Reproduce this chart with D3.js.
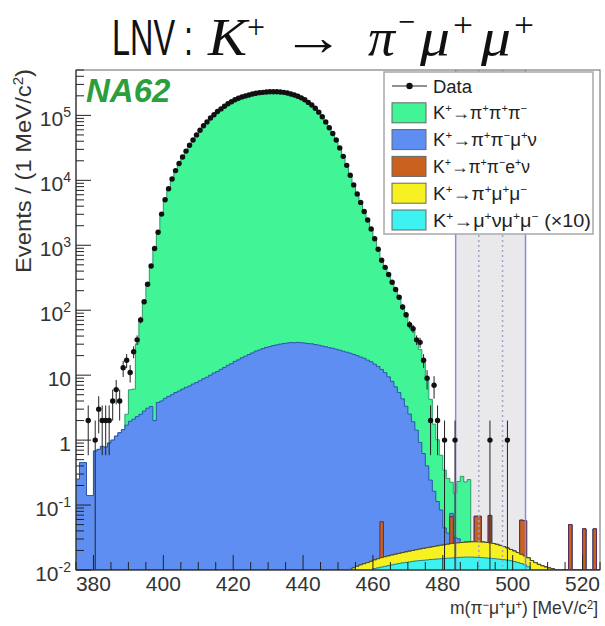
<!DOCTYPE html>
<html>
<head>
<meta charset="utf-8">
<script src="https://cdn.jsdelivr.net/npm/d3@7"></script>
<style>
  body { margin: 0; background: #fff; }
  svg { display: block; }
  text { font-family: "Liberation Sans", Arial, Helvetica, sans-serif; }
</style>
</head>
<body>
<svg id="chart" width="605" height="626"></svg>
<script>
// ---- binning and axis ranges (1 MeV/c^2 bins) ----
const massRange = [375, 525];
const yRange = [0.01, 5e5];
const xMajorTicks = [380, 400, 420, 440, 460, 480, 500, 520];
const yDecadeLabels = ["10^{-2}", "10^{-1}", "1", "10", "10^{2}", "10^{3}", "10^{4}", "10^{5}"];

// ---- data: event counts per bin, first bin starts at dataStart ----
const dataStart = 378;
const dataCounts = [
  2, 0, 1, 3, 2, 2, 2, 4, 6, 4,                                  // 378-387
  13, 17, 11, 23, 35, 71, 135, 251, 479, 891,                    // 388-397
  1585, 3020, 5012, 7413, 10470, 14130, 18200, 22900, 28200, 34700, // 398-407
  41700, 50100, 58900, 69200, 79400, 91200, 102300, 114800, 125900, 138000, // 408-417
  151400, 162200, 173800, 184100, 192800, 199500, 206500, 213800, 218800, 223900, // 418-427
  226500, 229100, 231700, 231700, 231700, 229100, 226500, 221300, 213800, 206500, // 428-437
  197200, 186200, 173800, 158500, 144500, 128800, 112200, 95500, 79400, 64600, // 438-447
  52500, 41700, 31600, 23400, 17000, 12000, 8510, 6170, 4570, 3310, // 448-457
  2450, 1780, 1260, 871, 589, 457, 355, 269, 209, 158,           // 458-467
  112, 85, 60, 52, 35, 32, 17, 9, 2, 7,                          // 468-477
  2, 0, 1, 0, 0, 1, 0, 0, 0, 0,                                  // 478-487
  0, 0, 0, 0, 0, 1, 0, 0, 0, 0,                                  // 488-497
  1                                                              // 498
];

// ---- simulated components ----
// K+ -> pi+ pi+ pi-
const k3piStart = 388;
const k3piValues = [
  0, 0.8, 4.0, 4.0, 28, 68, 130, 245, 470, 880,
  1580, 3000, 4990, 7400, 10460, 14120, 18190, 22890, 28190, 34690,
  41690, 50090, 58890, 69190, 79390, 91190, 102300, 114800, 125900, 138000,
  151400, 162200, 173800, 184100, 192800, 199500, 206500, 213800, 218800, 223900,
  226500, 229100, 231700, 231700, 231700, 229100, 226500, 221300, 213800, 206500,
  197200, 186200, 173800, 158500, 144500, 128800, 112200, 95500, 79400, 64600,
  52500, 41700, 31600, 23400, 17000, 12000, 8490, 6150, 4550, 3290,
  2430, 1760, 1245, 857, 577, 446, 346, 261, 202, 153,
  108, 82, 58, 46, 34, 24, 15, 8.5, 4.0, 1.6,
  0.9, 0.5, 0.3, 0.22, 0.15, 0.12, 0.2, 0.25, 0.2, 0.22
];
// K+ -> pi+ pi- mu+ nu
const k3munuStart = 375;
const k3munuValues = [
  0.25, 0.45, 0.45, 0.14, 0.14, 0.68, 0.72, 0.8, 0.78, 0.9,
  1.0, 1.15, 1.3, 1.45, 1.7, 1.95, 2.1, 2.3, 2.5, 2.8,
  3.1, 3.3, 2.0, 3.8, 4.0, 4.4, 4.7, 5.0, 5.4, 5.7,
  6.1, 6.5, 6.8, 7.3, 7.7, 8.2, 8.8, 9.3, 10.0, 10.8,
  11.4, 12.3, 13.2, 14.2, 15.0, 16.3, 17.2, 18.5, 19.6, 20.8,
  22.0, 23.5, 24.4, 25.6, 26.8, 27.5, 28.6, 29.3, 30.1, 30.8,
  31.2, 31.8, 31.5, 32.0, 31.6, 31.2, 30.6, 30.4, 29.6, 29.0,
  28.1, 27.4, 26.5, 26.0, 25.1, 24.3, 23.4, 22.6, 21.8, 20.9,
  20.0, 19.0, 18.2, 17.0, 16.1, 14.8, 13.6, 12.2, 10.9, 9.4,
  8.0, 6.6, 5.4, 4.3, 3.3, 2.5, 1.9, 1.4, 0.9, 0.6,
  0.38, 0.22, 0.14, 0.09, 0.06, 0.02, 0.012, 0.008, 0.006, 0.004
];
// K+ -> pi+ pi- e+ nu (isolated bins)
const ke4Bins = [462, 482, 489, 490, 493, 502, 503, 516, 520, 523];
const ke4Values = [0.040, 0.041, 0.040, 0.040, 0.043, 0.041, 0.041, 0.043, 0.043, 0.043];
// K+ -> pi+ mu+ mu-
const kpimumuStart = 450;
const kpimumuValues = [
  0.0040, 0.0043, 0.0045, 0.0047, 0.0046, 0.0044, 0.0042, 0.0039, 0.0036, 0.0036,
  0.0038, 0.0041, 0.0044, 0.0046, 0.0048, 0.0050, 0.0052, 0.0054, 0.0056, 0.0059,
  0.0062, 0.0064, 0.0067, 0.0070, 0.0074, 0.0077, 0.0080, 0.0084, 0.0087, 0.0091,
  0.0095, 0.0098, 0.0102, 0.0105, 0.0106, 0.0108, 0.0110, 0.0112, 0.0114, 0.0115,
  0.0115, 0.0114, 0.0113, 0.0110, 0.0106, 0.0100, 0.0093, 0.0085, 0.0076, 0.0068,
  0.0061, 0.0054, 0.0048, 0.0044, 0.0042, 0.0080, 0.0130, 0.0122, 0.0116, 0.0111,
  0.0107, 0.0104, 0.0101, 0.0098, 0.0090, 0.0080, 0.0070
];
// K+ -> mu+ nu mu+ mu- (scaled x10)
const kmunumumuStart = 450;
const kmunumumuValues = [
  0.0040, 0.0045, 0.0050, 0.0055, 0.0062, 0.0070, 0.0078, 0.0086, 0.0094, 0.0100,
  0.0105, 0.0108, 0.0111, 0.0114, 0.0117, 0.0120, 0.0123, 0.0126, 0.0129, 0.0131,
  0.0133, 0.0136, 0.0138, 0.0140, 0.0141, 0.0143, 0.0145, 0.0146, 0.0148, 0.0149,
  0.0150, 0.0152, 0.0153, 0.0154, 0.0156, 0.0157, 0.0158, 0.0158, 0.0158, 0.0157,
  0.0156, 0.0155, 0.0153, 0.0152, 0.0150, 0.0148, 0.0146, 0.0144, 0.0142, 0.0139,
  0.0135, 0.0131, 0.0126, 0.0120, 0.0112, 0.0060
];

// signal window around the kaon mass, and its inner region
const windowEdges = [483.68, 503.68];
const innerEdges = [490.3, 497.1];

const legendLabels = [
  "Data",
  "K^{+}→π^{+}π^{+}π^{−}",
  "K^{+}→π^{+}π^{−}μ^{+}ν",
  "K^{+}→π^{+}π^{−}e^{+}ν",
  "K^{+}→π^{+}μ^{+}μ^{−}",
  "K^{+}→μ^{+}νμ^{+}μ^{−} (×10)"
];
const legendWidths = [39, 94, 104, 97, 94, 158];

// ---- layout ----
const frame = { x0: 76, x1: 600, y0: 70, y1: 570 };
const x = d3.scaleLinear().domain(massRange).range([frame.x0, frame.x1]);
const y = d3.scaleLog().domain(yRange).range([frame.y1, frame.y0]);
const yc = v => y(Math.max(v, yRange[0]));

const svg = d3.select("#chart");
svg.append("rect").attr("width", 605).attr("height", 626).attr("fill", "#fff");
svg.append("defs").append("clipPath").attr("id", "plotClip")
  .append("rect").attr("x", frame.x0).attr("y", frame.y0)
  .attr("width", frame.x1 - frame.x0).attr("height", frame.y1 - frame.y0);

const plot = svg.append("g").attr("clip-path", "url(#plotClip)");

// text with ^{...} superscripts
function richText(sel, str, supSize, shift) {
  const re = /\^\{([^}]*)\}/g;
  let last = 0, m, raised = false;
  const add = (txt, sup) => {
    const t = sel.append("tspan").text(txt);
    if (sup) { t.attr("font-size", supSize).attr("dy", raised ? 0 : -shift); raised = true; }
    else if (raised) { t.attr("dy", shift); raised = false; }
  };
  while ((m = re.exec(str))) {
    if (m.index > last) add(str.slice(last, m.index), false);
    add(m[1], true);
    last = re.lastIndex;
  }
  if (last < str.length) add(str.slice(last), false);
}

// signal window band
plot.append("rect")
  .attr("x", x(windowEdges[0])).attr("y", frame.y0)
  .attr("width", x(windowEdges[1]) - x(windowEdges[0]))
  .attr("height", frame.y1 - frame.y0)
  .attr("fill", "#e9e9eb");

// ---- stacked histograms ----
const nBins = massRange[1] - massRange[0];
function toBins(start, vals) {
  const a = new Array(nBins).fill(0);
  vals.forEach((v, i) => { const k = start + i - massRange[0]; if (k >= 0 && k < nBins) a[k] = v; });
  return a;
}
function sparseBins(bins, vals) {
  const a = new Array(nBins).fill(0);
  bins.forEach((b, i) => { a[b - massRange[0]] = vals[i]; });
  return a;
}
// bottom of the stack first
const components = [
  { vals: toBins(kmunumumuStart, kmunumumuValues), fill: "#3ef2f2", stroke: "#1f8090" },
  { vals: toBins(kpimumuStart, kpimumuValues), fill: "#f7f122", stroke: "#4a4a22" },
  { vals: sparseBins(ke4Bins, ke4Values), fill: "#c9611f", stroke: "#5a2d58" },
  { vals: toBins(k3munuStart, k3munuValues), fill: "#5e8ef2", stroke: "#2d55ae" },
  { vals: toBins(k3piStart, k3piValues), fill: "#41f597", stroke: "#2a9a68" }
];
let running = new Array(nBins).fill(0);
components.forEach(c => {
  running = running.map((r, i) => r + c.vals[i]);
  c.cum = running.slice();
});
function stepPts(arr) {
  const pts = [];
  arr.forEach((v, i) => { const lo = massRange[0] + i; pts.push([lo, v], [lo + 1, v]); });
  return pts;
}
const area = d3.area().x(d => x(d[0])).y0(frame.y1).y1(d => yc(d[1]));
const line = d3.line().x(d => x(d[0])).y(d => yc(d[1]));
components.slice().reverse().forEach(c => {
  const pts = stepPts(c.cum);
  plot.append("path").attr("d", area(pts)).attr("fill", c.fill);
  plot.append("path").attr("d", line(pts)).attr("fill", "none")
    .attr("stroke", c.stroke).attr("stroke-width", 1);
});

// window lines
windowEdges.forEach(m => {
  plot.append("line").attr("x1", x(m)).attr("x2", x(m)).attr("y1", frame.y0).attr("y2", frame.y1)
    .attr("stroke", "#8a8ad6").attr("stroke-width", 1.5);
});
innerEdges.forEach(m => {
  plot.append("line").attr("x1", x(m)).attr("x2", x(m)).attr("y1", frame.y0).attr("y2", frame.y1)
    .attr("stroke", "#a2a2c4").attr("stroke-width", 1.5).attr("stroke-dasharray", "2,3");
});

// ---- data points with sqrt(N) errors ----
const pts = dataCounts.map((n, i) => ({ lo: dataStart + i, n })).filter(d => d.n > 0);
const dg = plot.append("g");
pts.forEach(d => {
  const e = Math.sqrt(d.n);
  const cx = x(d.lo + 0.5), cy = y(d.n);
  dg.append("line").attr("x1", cx).attr("x2", cx)
    .attr("y1", yc(d.n - e)).attr("y2", yc(d.n + e))
    .attr("stroke", "#222").attr("stroke-width", 1);
  dg.append("line").attr("x1", x(d.lo)).attr("x2", x(d.lo + 1))
    .attr("y1", cy).attr("y2", cy).attr("stroke", "#222").attr("stroke-width", 1);
});
dg.selectAll("circle").data(pts).join("circle")
  .attr("cx", d => x(d.lo + 0.5)).attr("cy", d => y(d.n)).attr("r", 2.7).attr("fill", "#111");

// ---- frame and axes ----
const ax = svg.append("g").attr("stroke", "#222").attr("stroke-width", 1);
ax.append("rect").attr("x", frame.x0).attr("y", frame.y0)
  .attr("width", frame.x1 - frame.x0).attr("height", frame.y1 - frame.y0)
  .attr("fill", "none").attr("stroke", "#666");
ax.append("line").attr("x1", frame.x0).attr("x2", frame.x1).attr("y1", frame.y1).attr("y2", frame.y1);
ax.append("line").attr("x1", frame.x0).attr("x2", frame.x0).attr("y1", frame.y0).attr("y2", frame.y1);

// x ticks
d3.range(massRange[0], massRange[1] + 1, 5).forEach(m => {
  const major = xMajorTicks.includes(m);
  ax.append("line").attr("x1", x(m)).attr("x2", x(m))
    .attr("y1", frame.y1).attr("y2", frame.y1 - (major ? 15 : 8));
});
svg.append("g").selectAll("text").data(xMajorTicks).join("text")
  .attr("x", d => x(d)).attr("y", 591).attr("text-anchor", "middle")
  .attr("font-size", 21).attr("fill", "#333").text(d => d);

// y ticks (log)
const decades = d3.range(-2, 6);
decades.forEach((k, i) => {
  const v = Math.pow(10, k);
  ax.append("line").attr("x1", frame.x0).attr("x2", frame.x0 + 15).attr("y1", y(v)).attr("y2", y(v));
  for (let m = 2; m <= 9; m++) {
    const mv = m * v;
    if (mv > yRange[1]) break;
    ax.append("line").attr("x1", frame.x0).attr("x2", frame.x0 + 8).attr("y1", y(mv)).attr("y2", y(mv));
  }
  const t = svg.append("text").attr("x", 71).attr("y", y(v) + 10.5)
    .attr("text-anchor", "end").attr("font-size", 21).attr("fill", "#333");
  richText(t, yDecadeLabels[i], 14, 9);
});

// axis titles
const xt = svg.append("text").attr("x", 450).attr("y", 614).attr("font-size", 19).attr("fill", "#333")
  .attr("textLength", 148).attr("lengthAdjust", "spacingAndGlyphs");
richText(xt, "m(π^{−}μ^{+}μ^{+}) [MeV/c^{2}]", 12, 5);
const yt = svg.append("text").attr("transform", "translate(31,69) rotate(-90)")
  .attr("text-anchor", "end").attr("font-size", 22).attr("fill", "#333")
  .attr("textLength", 204).attr("lengthAdjust", "spacingAndGlyphs");
richText(yt, "Events / (1 MeV/c^{2})", 14, 8);

// ---- legend ----
const lg = svg.append("g");
lg.append("rect").attr("x", 384).attr("y", 72).attr("width", 209).attr("height", 162)
  .attr("fill", "#fff").attr("stroke", "#a8a8a8").attr("stroke-width", 1.5);
const legendFills = [null, "#41f597", "#5e8ef2", "#c9611f", "#f7f122", "#3ef2f2"];
legendLabels.forEach((lab, i) => {
  const cy = 86 + i * 26.8;
  if (i === 0) {
    lg.append("line").attr("x1", 392).attr("x2", 427).attr("y1", cy).attr("y2", cy)
      .attr("stroke", "#222").attr("stroke-width", 1.2);
    lg.append("circle").attr("cx", 409.5).attr("cy", cy).attr("r", 3.2).attr("fill", "#111");
  } else {
    lg.append("rect").attr("x", 392).attr("y", cy - 10).attr("width", 34).attr("height", 20)
      .attr("fill", legendFills[i]).attr("stroke", "#666").attr("stroke-width", 1);
  }
  const t = lg.append("text").attr("x", 433).attr("y", cy + 6.5).attr("font-size", 18)
    .attr("fill", "#222").attr("textLength", legendWidths[i]).attr("lengthAdjust", "spacingAndGlyphs");
  richText(t, lab, 11, 7);
});

// experiment tag
svg.append("text").attr("x", 86).attr("y", 102).attr("font-size", 33)
  .attr("font-weight", "bold").attr("font-style", "italic").attr("fill", "#2a9f3c").text("NA62");

// ---- title ----
const serif = '"Liberation Serif", "DejaVu Serif", "Times New Roman", serif';
const tg = svg.append("g").attr("fill", "#111");
function titlePiece(txt, px, py, size, opts = {}) {
  const t = tg.append("text").attr("x", px).attr("y", py).attr("font-size", size).text(txt);
  if (opts.serif) t.style("font-family", serif);
  if (opts.italic) t.attr("font-style", "italic");
  if (opts.len) t.attr("textLength", opts.len).attr("lengthAdjust", "spacingAndGlyphs");
  return t;
}
titlePiece("LNV", 112, 55, 50, { len: 63 });
titlePiece(":", 184, 55, 50, { len: 9 });
titlePiece("K", 208, 55, 52, { serif: true, italic: true, len: 39 });
titlePiece("+", 247, 38, 34, { serif: true, len: 18 });
titlePiece("→", 282, 55, 52, { serif: true, len: 62 });
titlePiece("π", 368, 55, 52, { serif: true, italic: true, len: 27 });
titlePiece("−", 398, 33, 34, { serif: true, len: 17 });
titlePiece("μ", 420, 55, 52, { serif: true, italic: true, len: 30 });
titlePiece("+", 453, 36, 34, { serif: true, len: 20 });
titlePiece("μ", 481, 55, 52, { serif: true, italic: true, len: 30 });
titlePiece("+", 514, 36, 34, { serif: true, len: 20 });
</script>
</body>
</html>
